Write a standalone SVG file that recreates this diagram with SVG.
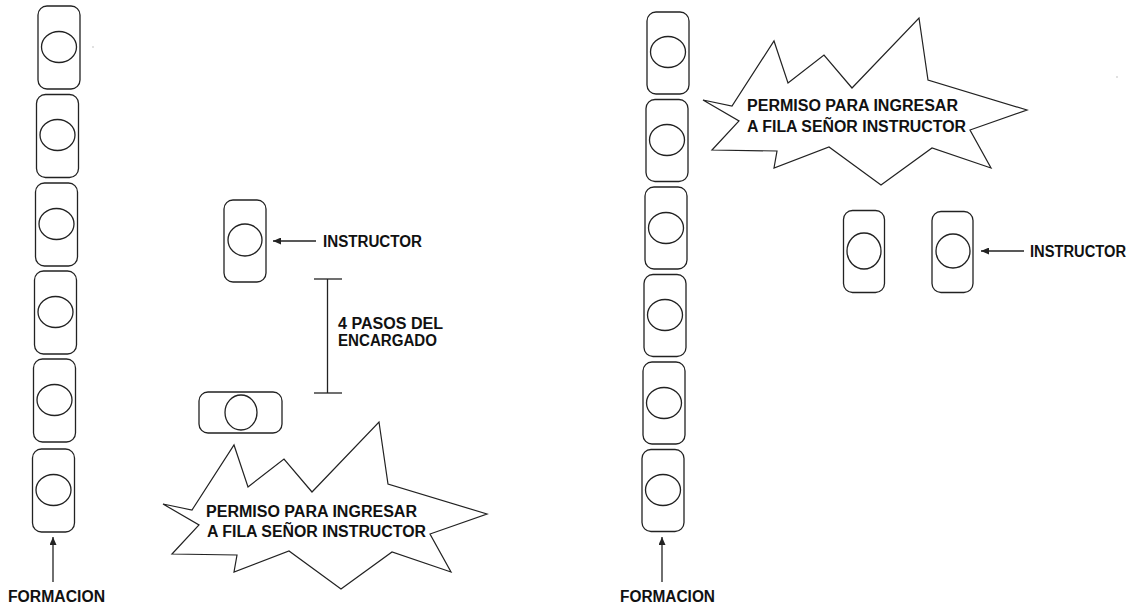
<svg xmlns="http://www.w3.org/2000/svg" width="1134" height="604" viewBox="0 0 1134 604">
<style>
.box{fill:none;stroke:#222;stroke-width:1.3}
.head{fill:none;stroke:#222;stroke-width:1.3}
.line{fill:none;stroke:#222;stroke-width:1.3}
.burst{fill:#fff;stroke:#222;stroke-width:1.2;stroke-linejoin:miter}
.lbl{font-family:"Liberation Sans",Arial,sans-serif;font-weight:bold;font-size:16px;fill:#111}
</style>
<defs>
<marker id="ah" markerUnits="userSpaceOnUse" markerWidth="8" markerHeight="7" refX="8" refY="3.5" orient="auto">
<path d="M0,0 L8,3.5 L0,7 z" fill="#222"/>
</marker>
<polygon id="starShape" points="163,504 192,510 234,445 248,487 284,459 312,492 379,422 388,484 487,514 430,534 451,572 392,552 341,589 289,551 234,572 237,555 172,554 199,525"/>
</defs>
<rect width="1134" height="604" fill="#fff"/>

<g id="formacion-left">
<g id="fl1"><rect class="box" x="38" y="6" width="42" height="83" rx="9"/><ellipse class="head" cx="59" cy="47" rx="17.5" ry="15.5"/></g>
<g id="fl2"><rect class="box" x="36.5" y="94.5" width="42" height="83" rx="9"/><ellipse class="head" cx="57.5" cy="135" rx="17.5" ry="15.5"/></g>
<g id="fl3"><rect class="box" x="35.5" y="183" width="42" height="83" rx="9"/><ellipse class="head" cx="56.5" cy="224" rx="17.5" ry="15.5"/></g>
<g id="fl4"><rect class="box" x="34.5" y="271" width="42" height="83" rx="9"/><ellipse class="head" cx="55.5" cy="312" rx="17.5" ry="15.5"/></g>
<g id="fl5"><rect class="box" x="33.5" y="359" width="42" height="83" rx="9"/><ellipse class="head" cx="54.5" cy="400" rx="17.5" ry="15.5"/></g>
<g id="fl6"><rect class="box" x="32.5" y="449" width="42" height="83" rx="9"/><ellipse class="head" cx="53.5" cy="490" rx="17.5" ry="15.5"/></g>
</g>

<g id="instructor-left"><rect class="box" x="224" y="200" width="42" height="82" rx="9"/><ellipse class="head" cx="245" cy="240" rx="17" ry="16"/></g>
<g id="encargado"><rect class="box" x="199" y="392" width="83" height="41" rx="9"/><ellipse class="head" cx="241" cy="412.5" rx="16" ry="17.5"/></g>

<g id="formacion-right">
<g id="fr1"><rect class="box" x="647" y="12" width="42" height="82" rx="9"/><ellipse class="head" cx="668" cy="52" rx="17.5" ry="15.5"/></g>
<g id="fr2"><rect class="box" x="646" y="99.5" width="42" height="82" rx="9"/><ellipse class="head" cx="667" cy="140" rx="17.5" ry="15.5"/></g>
<g id="fr3"><rect class="box" x="645" y="187" width="42" height="82" rx="9"/><ellipse class="head" cx="666" cy="228" rx="17.5" ry="15.5"/></g>
<g id="fr4"><rect class="box" x="644" y="274.5" width="42" height="82" rx="9"/><ellipse class="head" cx="665" cy="315" rx="17.5" ry="15.5"/></g>
<g id="fr5"><rect class="box" x="643" y="362" width="42" height="82" rx="9"/><ellipse class="head" cx="664" cy="403" rx="17.5" ry="15.5"/></g>
<g id="fr6"><rect class="box" x="642" y="449.5" width="42" height="82" rx="9"/><ellipse class="head" cx="663" cy="490" rx="17.5" ry="15.5"/></g>
</g>

<g id="persona-right"><rect class="box" x="843.5" y="210.5" width="41" height="82" rx="9"/><ellipse class="head" cx="864" cy="251" rx="17" ry="18"/></g>
<g id="instructor-right"><rect class="box" x="932" y="211.5" width="41" height="81" rx="9"/><ellipse class="head" cx="953" cy="251" rx="17" ry="17"/></g>

<g id="connectors">
<line class="line" x1="53" y1="582" x2="53" y2="537" marker-end="url(#ah)"/>
<line class="line" x1="662" y1="582" x2="662" y2="537" marker-end="url(#ah)"/>
<line class="line" x1="316" y1="241" x2="273" y2="241" marker-end="url(#ah)"/>
<line class="line" x1="1024" y1="251" x2="981" y2="251" marker-end="url(#ah)"/>
<g id="distance">
<line class="line" x1="327.5" y1="279" x2="327.5" y2="393"/>
<line class="line" x1="314" y1="279" x2="342" y2="279"/>
<line class="line" x1="314" y1="393" x2="342" y2="393"/>
</g>
</g>

<g id="callout-left">
<use href="#starShape" class="burst"/>
<text class="lbl" x="206" y="517" textLength="211" lengthAdjust="spacingAndGlyphs">PERMISO PARA INGRESAR</text>
<text class="lbl" x="207" y="537" textLength="219" lengthAdjust="spacingAndGlyphs">A FILA SEÑOR INSTRUCTOR</text>
</g>
<g id="callout-right" transform="translate(540,-404)">
<use href="#starShape" class="burst"/>
<text class="lbl" x="207" y="515" textLength="211" lengthAdjust="spacingAndGlyphs">PERMISO PARA INGRESAR</text>
<text class="lbl" x="207" y="536" textLength="219" lengthAdjust="spacingAndGlyphs">A FILA SEÑOR INSTRUCTOR</text>
</g>

<g id="labels">
<text class="lbl" x="323" y="247" textLength="99" lengthAdjust="spacingAndGlyphs">INSTRUCTOR</text>
<text class="lbl" x="1030" y="257" textLength="96" lengthAdjust="spacingAndGlyphs">INSTRUCTOR</text>
<text class="lbl" x="338" y="329" textLength="105" lengthAdjust="spacingAndGlyphs">4 PASOS DEL</text>
<text class="lbl" x="338" y="346" textLength="99" lengthAdjust="spacingAndGlyphs">ENCARGADO</text>
<text class="lbl" x="8" y="602" textLength="97" lengthAdjust="spacingAndGlyphs">FORMACION</text>
<text class="lbl" x="620" y="602" textLength="95" lengthAdjust="spacingAndGlyphs">FORMACION</text>
</g>
<rect x="92.5" y="46.5" width="1" height="1" fill="#888"/>
<rect x="1116.5" y="76.5" width="1" height="1" fill="#888"/>
</svg>
